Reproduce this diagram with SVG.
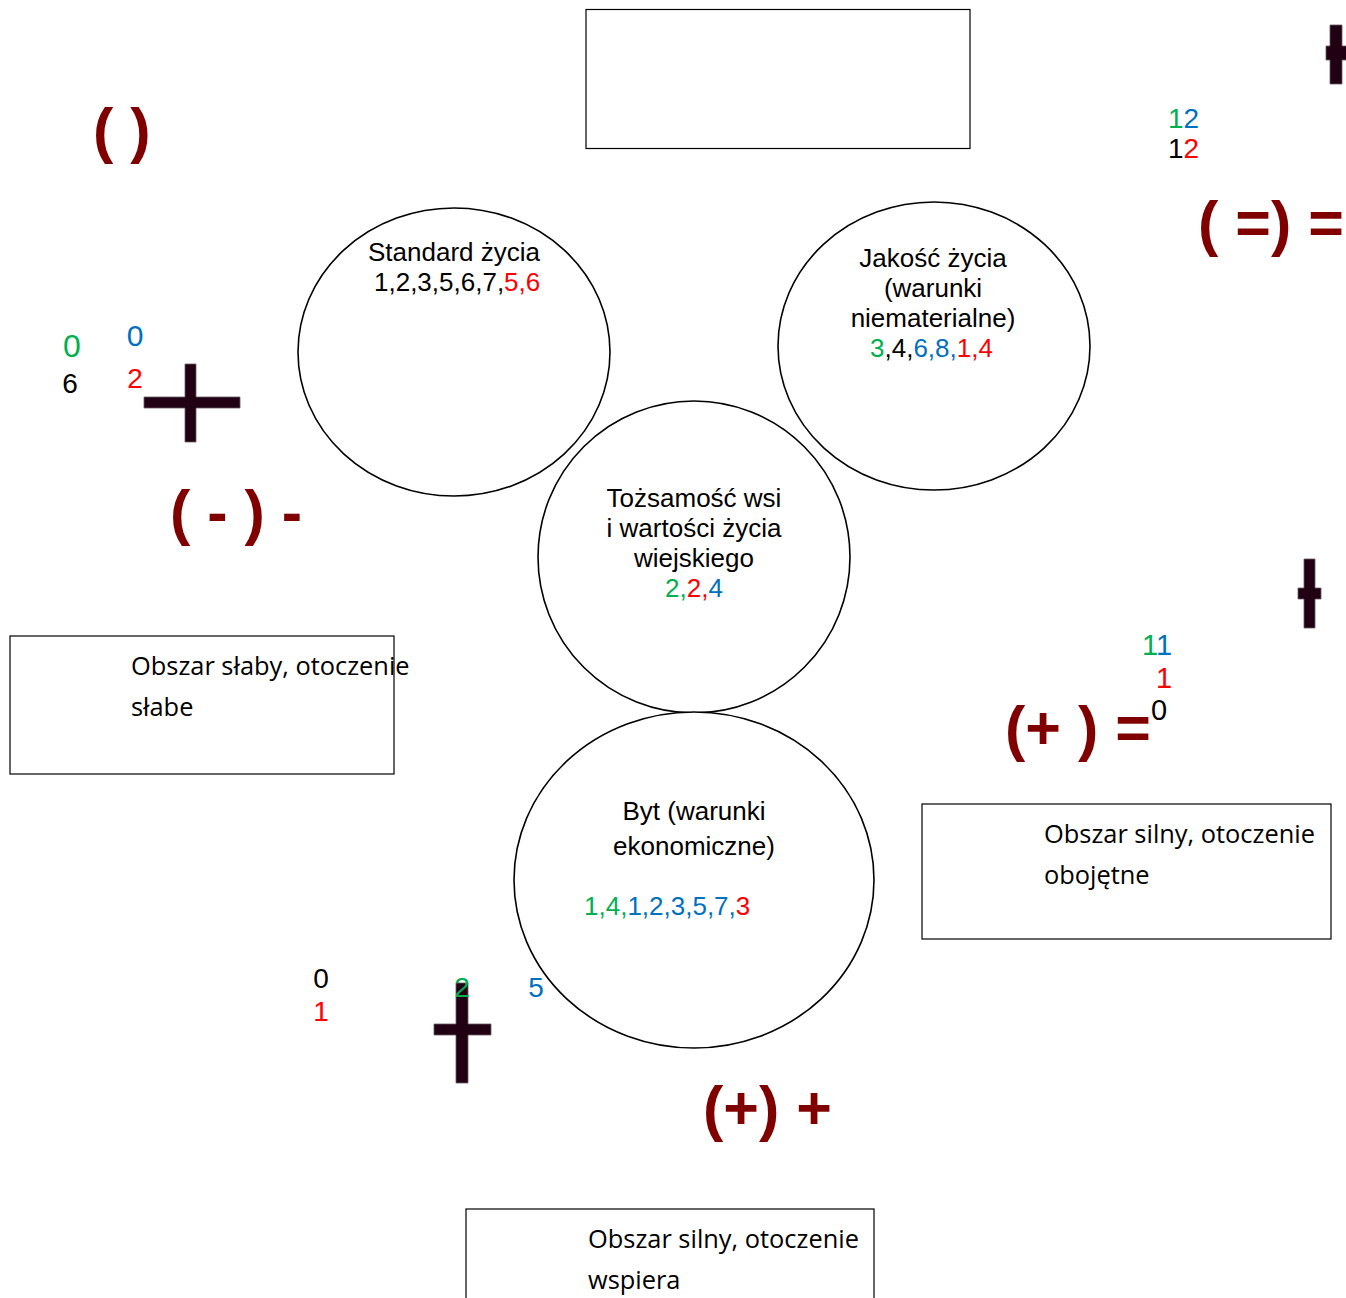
<svg xmlns="http://www.w3.org/2000/svg" width="1346" height="1298" viewBox="0 0 1346 1298">
<style>
.bg{fill:#ffffff}
.box{fill:#ffffff;stroke:#000000;stroke-width:1.2}
.circ{fill:#ffffff;stroke:#000000;stroke-width:1.6}
.t{font-family:"Liberation Sans",Arial,sans-serif;font-size:26px;fill:#000000}
.bt{font-family:"Open Sans","Liberation Sans",sans-serif;font-size:25.4px;fill:#000000}
.sym{font-family:"Liberation Sans",Arial,sans-serif;font-size:61px;font-weight:bold;fill:#800000}
.n{font-family:"Liberation Sans",Arial,sans-serif;font-size:28px}
.g{fill:#00B050}.b{fill:#0070C0}.r{fill:#FF0000}.k{fill:#000000}
.cross{fill:#200012;stroke:#6a5a66;stroke-width:0.8}
</style>
<rect class="bg" x="0" y="0" width="1346" height="1298"/>

<g id="box-top"><rect class="box" x="586" y="9.5" width="384" height="139"/></g>

<g id="circle-standard">
<ellipse class="circ" cx="454" cy="352" rx="156" ry="144"/>
<text class="t" x="454" y="261" text-anchor="middle">Standard życia</text>
<text class="t" x="374" y="291">1,2,3,5,6,7,<tspan class="r">5,6</tspan></text>
</g>

<g id="circle-jakosc">
<ellipse class="circ" cx="934" cy="346" rx="156" ry="144"/>
<text class="t" x="933" y="267" text-anchor="middle">Jakość życia</text>
<text class="t" x="933" y="297" text-anchor="middle">(warunki</text>
<text class="t" x="933" y="327" text-anchor="middle">niematerialne)</text>
<text class="t" x="870" y="357"><tspan class="g">3</tspan>,4,<tspan class="b">6,8,</tspan><tspan class="r">1,4</tspan></text>
</g>

<g id="circle-tozsamosc">
<ellipse class="circ" cx="694" cy="557" rx="156" ry="156"/>
<text class="t" x="694" y="507" text-anchor="middle">Tożsamość wsi</text>
<text class="t" x="694" y="537" text-anchor="middle">i wartości życia</text>
<text class="t" x="694" y="567" text-anchor="middle">wiejskiego</text>
<text class="t" x="665" y="597"><tspan class="g">2,</tspan><tspan class="r">2,</tspan><tspan class="b">4</tspan></text>
</g>

<g id="circle-byt">
<ellipse class="circ" cx="694" cy="880" rx="180" ry="168"/>
<text class="t" x="694" y="820" text-anchor="middle">Byt (warunki</text>
<text class="t" x="694" y="855" text-anchor="middle">ekonomiczne)</text>
<text class="t" x="584" y="915"><tspan class="g">1,4,</tspan><tspan class="b">1,2,3,5,7,</tspan><tspan class="r">3</tspan></text>
</g>

<g id="box-left">
<rect class="box" x="10" y="636" width="384" height="138"/>
<text class="bt" x="131" y="675">Obszar słaby, otoczenie</text>
<text class="bt" x="131" y="716">słabe</text>
</g>

<g id="box-right">
<rect class="box" x="922" y="804" width="409" height="135"/>
<text class="bt" x="1044" y="843">Obszar silny, otoczenie</text>
<text class="bt" x="1044" y="884">obojętne</text>
</g>

<g id="box-bottom">
<rect class="box" x="466" y="1209" width="408" height="100"/>
<text class="bt" x="588" y="1248">Obszar silny, otoczenie</text>
<text class="bt" x="588" y="1289">wspiera</text>
</g>

<g id="symbols">
<text class="sym" x="93" y="151" xml:space="preserve">( )</text>
<text class="sym" x="170" y="533" xml:space="preserve">( - ) -</text>
<text class="sym" x="1198" y="244" xml:space="preserve">( =) =</text>
<text class="sym" x="1005" y="749" xml:space="preserve">(+ ) =</text>
<text class="sym" x="703" y="1129" xml:space="preserve">(+) +</text>
</g>

<g id="crosses">
<path class="cross" d="M185,364 H196 V397 H240 V408 H196 V442 H185 V408 H144 V397 H185 Z"/>
<path class="cross" d="M1330,25 H1342 V46 H1350 V60 H1342 V84 H1330 V60 H1326 V46 H1330 Z"/>
<path class="cross" d="M1304,559 H1315 V588 H1321 V599 H1315 V628 H1304 V599 H1298 V588 H1304 Z"/>
<path class="cross" d="M456,983 H468 V1024 H491 V1035 H468 V1083 H456 V1035 H434 V1024 H456 Z"/>
</g>

<g id="numbers">
<text class="n" x="1168" y="128"><tspan class="g">1</tspan><tspan class="b">2</tspan></text>
<text class="n" x="1168" y="158"><tspan class="k">1</tspan><tspan class="r">2</tspan></text>

<text class="n g" x="72" y="357" text-anchor="middle" style="font-size:32px">0</text>
<text class="n k" x="70" y="393" text-anchor="middle">6</text>
<text class="n b" x="135" y="346" text-anchor="middle" style="font-size:30px">0</text>
<text class="n r" x="135" y="388" text-anchor="middle">2</text>

<text class="n" x="1142" y="655" style="font-size:29px"><tspan class="g">1</tspan><tspan class="b">1</tspan></text>
<text class="n r" x="1156" y="688" style="font-size:29px">1</text>
<text class="n k" x="1151" y="720" style="font-size:29px">0</text>

<text class="n k" x="321" y="988" text-anchor="middle">0</text>
<text class="n r" x="321" y="1021" text-anchor="middle">1</text>
<text class="n g" x="462" y="997" text-anchor="middle">2</text>
<text class="n b" x="536" y="997" text-anchor="middle">5</text>
</g>
</svg>
